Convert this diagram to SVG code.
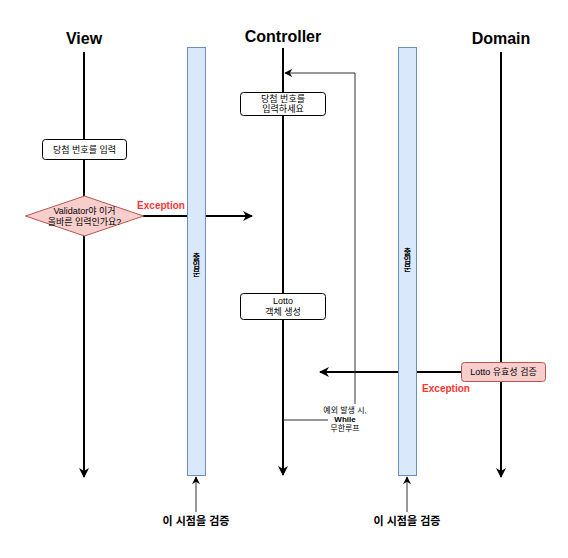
<svg xmlns="http://www.w3.org/2000/svg" width="568" height="558" viewBox="0 0 568 558">
<style>
text{font-family:"Liberation Sans","Noto Sans CJK KR",sans-serif;text-anchor:middle}
.title{font-size:16px;font-weight:bold}
.lbl{font-size:9px;fill:#000}
.sm{font-size:8px;fill:#000}
.vert{font-size:8px;font-weight:bold;fill:#000}
.chk{font-size:11px;font-weight:bold;fill:#000}
.box{fill:#fff;stroke:#000;stroke-width:1}
.pink{fill:#f8cecc;stroke:#b85450;stroke-width:1}
.bar{fill:#dae8fc;stroke:#6c8ebf;stroke-width:1}
.life{stroke:#000;stroke-width:2;fill:none}
.exc{font-size:10px;font-weight:bold;fill:#ff3333}
.bold{font-weight:bold}
</style>
<defs>
<marker id="ah" viewBox="0 0 10 10" refX="9" refY="5" markerWidth="5" markerHeight="5" orient="auto-start-reverse" markerUnits="strokeWidth"><path d="M0,0 L10,5 L0,10 L3,5 Z" fill="#000"/></marker>
<marker id="ah2" viewBox="0 0 10 10" refX="9" refY="5" markerWidth="8" markerHeight="8" orient="auto" markerUnits="strokeWidth"><path d="M0,0 L10,5 L0,10 L3,5 Z" fill="#000"/></marker>
</defs>
<rect width="568" height="558" fill="#fff"/>
<g id="titles">
<text class="title" x="84" y="44">View</text>
<text class="title" x="283" y="42">Controller</text>
<text class="title" x="501" y="44">Domain</text>
</g>
<g id="connectors">
<line class="life" x1="84" y1="52" x2="84" y2="477" marker-end="url(#ah)"/>
<line class="life" x1="283" y1="48" x2="283" y2="475" marker-end="url(#ah)"/>
<line class="life" x1="501" y1="52" x2="501" y2="477" marker-end="url(#ah)"/>
<line class="life" x1="143" y1="216" x2="252" y2="216" marker-end="url(#ah)"/>
<line class="life" x1="461" y1="372" x2="320" y2="372" marker-end="url(#ah)"/>
<polyline points="283,420 328,420" fill="none" stroke="#333" stroke-width="1"/>
<polyline points="355,404 355,73 285,73" fill="none" stroke="#333" stroke-width="1" marker-end="url(#ah2)"/>
<line x1="196" y1="512" x2="196" y2="477" stroke="#333" stroke-width="1" marker-end="url(#ah2)"/>
<line x1="407" y1="512" x2="407" y2="477" stroke="#333" stroke-width="1" marker-end="url(#ah2)"/>
</g>
<g id="bar1">
<rect class="bar" x="187.5" y="47.5" width="18" height="428"/>
<text class="vert" x="196.5" y="260">출</text>
<text class="vert" x="196.5" y="268">입</text>
<text class="vert" x="196.5" y="276">문</text>
</g>
<g id="bar2">
<rect class="bar" x="398.5" y="47.5" width="18" height="428"/>
<text class="vert" x="407.5" y="255">출</text>
<text class="vert" x="407.5" y="263">입</text>
<text class="vert" x="407.5" y="271">문</text>
</g>
<g id="input">
<rect class="box" x="42.5" y="139.5" width="84" height="20" rx="3"/>
<text class="lbl" x="84.5" y="152.5">당첨 번호를 입력</text>
</g>
<g id="validator">
<polygon class="pink" points="84.5,196 143.5,216 84.5,236 25.5,216"/>
<text class="lbl" x="84.5" y="214">Validator야 이거</text>
<text class="lbl" x="84.5" y="225">올바른 입력인가요?</text>
<text class="exc" x="161" y="209">Exception</text>
</g>
<g id="prompt">
<rect class="box" x="240.5" y="92.5" width="85" height="23" rx="3"/>
<text class="lbl" x="283" y="102">당첨 번호를</text>
<text class="lbl" x="283" y="112">입력하세요</text>
</g>
<g id="lotto">
<rect class="box" x="240.5" y="293.5" width="85" height="26" rx="3"/>
<text class="lbl" x="283" y="304">Lotto</text>
<text class="lbl" x="283" y="315">객체 생성</text>
</g>
<g id="loop-label">
<text class="sm" x="345" y="413">예외 발생 시,</text>
<text class="sm bold" x="345" y="422">While</text>
<text class="sm" x="345" y="431">무한루프</text>
</g>
<g id="verify">
<rect class="pink" x="461.5" y="362.5" width="84" height="19" rx="3"/>
<text class="lbl" x="503.5" y="375">Lotto 유효성 검증</text>
<text class="exc" x="446" y="392">Exception</text>
</g>
<g id="checkpoints">
<text class="chk" x="196" y="525">이 시점을 검증</text>
<text class="chk" x="407" y="525">이 시점을 검증</text>
</g>
</svg>
